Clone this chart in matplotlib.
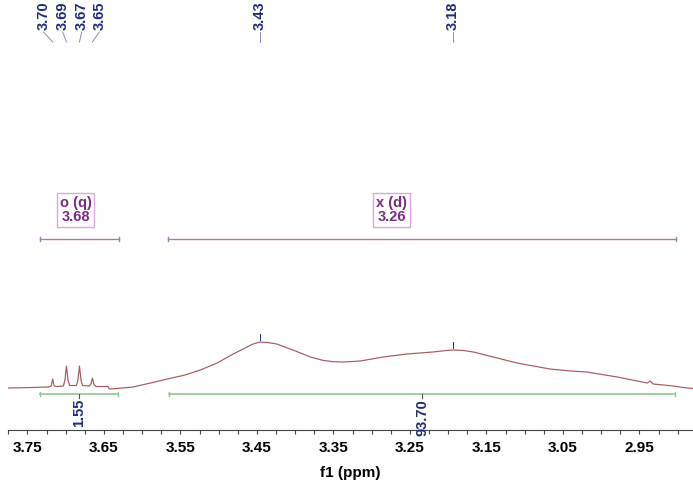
import numpy as np
import matplotlib.pyplot as plt
from matplotlib.ticker import MultipleLocator

plt.rcParams['font.family'] = ['Liberation Sans', 'DejaVu Sans']

# spectrum trace: (ppm, intensity above baseline)
spec_ppm = [3.775, 3.745, 3.722, 3.719, 3.717, 3.715, 3.711, 3.703, 3.701, 3.699, 3.697,
            3.695, 3.686, 3.684, 3.682, 3.680, 3.678, 3.669, 3.667, 3.665, 3.663, 3.660,
            3.650, 3.645, 3.643, 3.641, 3.612, 3.589, 3.567, 3.544, 3.524, 3.502, 3.481,
            3.463, 3.455, 3.446, 3.436, 3.424, 3.403, 3.380, 3.363, 3.350, 3.337, 3.315,
            3.285, 3.254, 3.220, 3.205, 3.194, 3.180, 3.167, 3.141, 3.110, 3.067, 3.040,
            3.019, 2.979, 2.940, 2.936, 2.932, 2.906, 2.888, 2.880]
spec_int = [2, 2.5, 3, 4, 11, 4, 3.5, 4, 10, 24, 10,
            4.5, 4.5, 10, 24, 10, 4.5, 4, 6, 12, 5, 3.5,
            3.5, 3.5, 1, 1, 3, 7, 11, 15, 20, 27, 36,
            43, 46, 48, 47.5, 46, 40, 33, 29.5, 28.3, 28, 29,
            33, 36, 38, 39.3, 40, 39.5, 38, 33, 27, 21, 19,
            18, 13, 7, 9, 6, 4, 2, 1.5]

# peak picking labels
peak_labels = ['3.70', '3.69', '3.67', '3.65', '3.43', '3.18']
peak_label_x = [3.729, 3.704, 3.679, 3.656, 3.446, 3.194]
peak_x = [3.717, 3.699, 3.682, 3.665, 3.446, 3.194]

# multiplets
mult_names = ['o (q)\n3.68', 'x (d)\n3.26']
mult_from = [3.734, 3.566]
mult_to = [3.630, 2.902]
mult_label_x = [3.687, 3.274]

# integrals
integ_vals = ['1.55', '93.70']

SPEC = '#a6585e'
NAVY = '#1f2a7e'
GREEN = '#93c793'
MAUVE = '#b474b4'
PURPLE = '#7a2b82'

fig = plt.figure(figsize=(6.93, 4.84), dpi=100)
ax = fig.add_axes([0.012, (484 - 430) / 484, 0.988, 430 / 484])
ax.set_xlim(3.775, 2.88)
ax.set_ylim(-40, 390)

ax.plot(spec_ppm, spec_int, color=SPEC, lw=0.85)

# peak labels at the top with leader lines
for lab, lx, px in zip(peak_labels, peak_label_x, peak_x):
    ax.text(lx, 360, lab, rotation=90, ha='center', va='bottom', color=NAVY,
            fontsize=10.5, fontweight='bold')
    ax.plot([lx, px], [358, 348], color='#8a8fb0', lw=0.7)

# small ticks over the broad maxima
for px in peak_x[4:]:
    h = np.interp(-px, -np.array(spec_ppm), spec_int)
    ax.plot([px, px], [h + 2, h + 8], color=NAVY, lw=0.7)

# multiplet annotations
for name, a, b, lx in zip(mult_names, mult_from, mult_to, mult_label_x):
    ax.plot([a, b], [151, 151], color=MAUVE, lw=1.0)
    ax.plot([a, a], [149, 153], color=MAUVE, lw=1.0)
    ax.plot([b, b], [149, 153], color=MAUVE, lw=1.0)
    ax.text(lx, 180, name, ha='center', va='center', color=PURPLE, fontsize=10.5,
            fontweight='bold', linespacing=1.05,
            bbox=dict(boxstyle='square,pad=0.2', fc='white', ec='#dba6e2', lw=1))

# integrals
for val, a, b in zip(integ_vals, mult_from, mult_to):
    a2 = a - 0.001
    b2 = b + 0.001
    mid = (a2 + b2) / 2
    ax.plot([a2, b2], [-4, -4], color=GREEN, lw=1.2)
    ax.plot([a2, a2], [-6, -2], color=GREEN, lw=1.0)
    ax.plot([b2, b2], [-6, -2], color=GREEN, lw=1.0)
    ax.plot([mid, mid], [-4, -8], color='#555555', lw=0.8)
    ax.text(mid, -9, val, rotation=90, ha='center', va='top', color=NAVY,
            fontsize=10.5, fontweight='bold', clip_on=False)

for s in ['top', 'left', 'right']:
    ax.spines[s].set_visible(False)
ax.spines['bottom'].set_color('#444444')
ax.spines['bottom'].set_linewidth(0.8)
ax.set_yticks([])
ax.xaxis.set_major_locator(MultipleLocator(0.1))
ax.xaxis.set_minor_locator(MultipleLocator(0.025))
ax.set_xticks(np.arange(3.75, 2.90, -0.1))
ax.tick_params(axis='x', which='both', direction='out', length=3, width=0.8,
               color='#444444', pad=5)
for t in ax.get_xticklabels():
    t.set_fontsize(11)
    t.set_fontweight('bold')
ax.set_xlabel('f1 (ppm)', fontsize=11, fontweight='bold', labelpad=8)

fig.savefig('out.png', dpi=100)
